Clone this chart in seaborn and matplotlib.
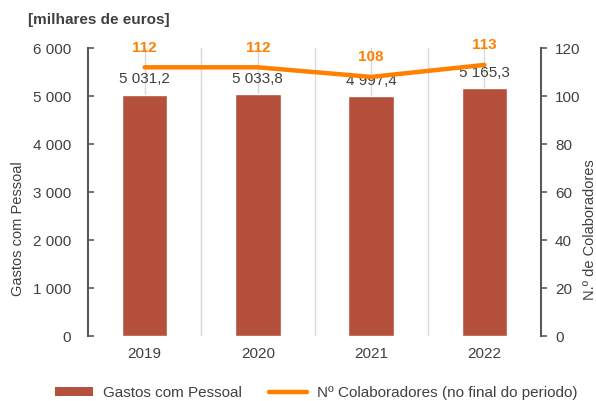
import numpy as np
import pandas as pd
import matplotlib
matplotlib.use("Agg")
import matplotlib.pyplot as plt
import seaborn as sns
from matplotlib.patches import Patch
from matplotlib.lines import Line2D

years = ["2019", "2020", "2021", "2022"]
gastos = [5031.2, 5033.8, 4997.4, 5165.3]
colaboradores = [112, 112, 108, 113]
left_ticks = [0, 1000, 2000, 3000, 4000, 5000, 6000]
right_ticks = [0, 20, 40, 60, 80, 100, 120]

sns.set_theme(style="white")
plt.rcParams["font.family"] = ["Liberation Sans", "DejaVu Sans"]

BAR = "#B5503C"
ORANGE = "#FF8000"
TXT = "#404040"
SPINE = "#595959"

fig = plt.figure(figsize=(5.96, 4.01), dpi=100)
ax = fig.add_axes([0.1477, 0.162, 0.7600, 0.718])

df = pd.DataFrame({"ano": years, "gastos": gastos, "colab": colaboradores})
pos = np.arange(len(years))

# light vertical guides at category centres and between categories
for p in np.concatenate([pos, pos[:-1] + 0.5]):
    ax.axvline(p, color="#D9D9D9", lw=1, zorder=0)

sns.barplot(data=df, x="ano", y="gastos", color=BAR, width=0.4, ax=ax,
            saturation=1, zorder=2)
ax.set_xlim(-0.5, len(years) - 0.5)
ax.set_ylim(0, 6000)
ax.set_yticks(left_ticks)
ax.set_yticklabels([f"{v:,}".replace(",", " ") for v in left_ticks])
ax.set_xlabel("")
ax.set_ylabel("")
ax.tick_params(axis="y", direction="in", length=4, width=1.2, color=SPINE,
               labelcolor=TXT, labelsize=11, pad=12)
ax.tick_params(axis="x", length=0, labelcolor=TXT, labelsize=11, pad=8)
for s in ["top", "right", "bottom"]:
    ax.spines[s].set_visible(False)
ax.spines["left"].set_color(SPINE)
ax.spines["left"].set_linewidth(1.5)

for p, v in zip(pos, gastos):
    lab = f"{v:,.1f}".replace(",", " ").replace(".", ",")
    ax.annotate(lab, (p, v), xytext=(0, 6), textcoords="offset points",
                ha="center", va="bottom", color=TXT, fontsize=11)

ax2 = ax.twinx()
sns.lineplot(x=pos, y=colaboradores, ax=ax2, color=ORANGE, lw=3.2, zorder=3)
ax2.set_ylim(0, 120)
ax2.set_yticks(right_ticks)
ax2.set_ylabel("")
ax2.tick_params(axis="y", direction="out", length=4, width=1.2, color=SPINE,
                labelcolor=TXT, labelsize=11, pad=6)
for s in ["top", "left", "bottom"]:
    ax2.spines[s].set_visible(False)
ax2.spines["right"].set_color(SPINE)
ax2.spines["right"].set_linewidth(1.5)
ax2.set_xlim(-0.5, len(years) - 0.5)

for p, v in zip(pos, colaboradores):
    ax2.annotate(str(v), (p, v), xytext=(0, 9), textcoords="offset points",
                 ha="center", va="bottom", color=ORANGE, fontsize=11,
                 fontweight="bold")

fig.text(0.03, 0.43, "Gastos com Pessoal", rotation=90, color=TXT,
         fontsize=10.5, ha="center", va="center")
fig.text(0.99, 0.427, "N.º de Colaboradores", rotation=90, color=TXT,
         fontsize=10.5, ha="center", va="center")
fig.text(0.047, 0.95, "[milhares de euros]", color=TXT, fontsize=11,
         fontweight="bold", ha="left", va="center")

handles = [Patch(facecolor=BAR, edgecolor="none"),
           Line2D([0], [0], color=ORANGE, lw=3.2)]
fig.legend(handles, ["Gastos com Pessoal", "Nº Colaboradores (no final do periodo)"],
           loc="center", bbox_to_anchor=(0.531, 0.02), ncol=2, frameon=False,
           fontsize=11, labelcolor=TXT, handlelength=2.5, handleheight=0.5,
           columnspacing=1.76, handletextpad=0.65, borderpad=0.2)

fig.savefig("out.png", dpi=100)
